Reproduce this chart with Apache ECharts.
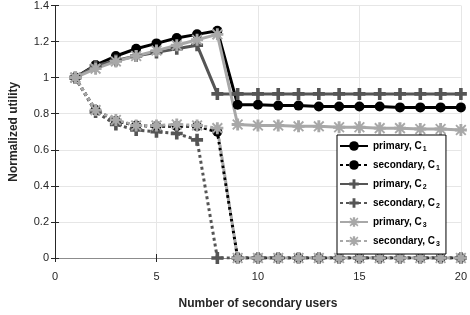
<!DOCTYPE html>
<html>
<head>
<meta charset="utf-8">
<script src="https://cdn.jsdelivr.net/npm/echarts@6/dist/echarts.min.js"></script>
<style>html,body{margin:0;padding:0;background:#fff;}#c{width:470px;height:315px;}</style>
</head>
<body>
<div id="c"></div>
<script>
const users = [1,2,3,4,5,6,7,8,9,10,11,12,13,14,15,16,17,18,19,20];
const primaryC1   = [1.00,1.07,1.12,1.16,1.19,1.22,1.24,1.26,0.85,0.85,0.845,0.845,0.84,0.84,0.84,0.84,0.835,0.835,0.835,0.835];
const secondaryC1 = [1.00,0.82,0.76,0.735,0.73,0.73,0.73,0.70,0,0,0,0,0,0,0,0,0,0,0,0];
const primaryC2   = [1.00,1.065,1.095,1.12,1.14,1.16,1.18,0.91,0.91,0.91,0.91,0.91,0.91,0.91,0.91,0.91,0.91,0.91,0.91,0.91];
const secondaryC2 = [1.00,0.81,0.74,0.71,0.70,0.69,0.655,0,0,0,0,0,0,0,0,0,0,0,0,0];
const primaryC3   = [1.00,1.05,1.09,1.12,1.15,1.18,1.21,1.24,0.74,0.735,0.735,0.73,0.73,0.725,0.725,0.72,0.72,0.715,0.715,0.71];
const secondaryC3 = [1.00,0.82,0.765,0.735,0.735,0.74,0.735,0.72,0,0,0,0,0,0,0,0,0,0,0,0];
const xTicks = [0,5,10,15,20];
const yTicks = [0,0.2,0.4,0.6,0.8,1,1.2,1.4];

const plusSym = 'path://M3.5,0H6.5V3.5H10V6.5H6.5V10H3.5V6.5H0V3.5H3.5Z';
const starSym = 'path://M3.8,0H6.2V3.8H10V6.2H6.2V10H3.8V6.2H0V3.8H3.8Z M1.5,0.4L5,3.9L8.5,0.4L9.6,1.5L6.1,5L9.6,8.5L8.5,9.6L5,6.1L1.5,9.6L0.4,8.5L3.9,5L0.4,1.5Z';

const pair = a => users.map((u,i)=>[u,a[i]]);
function mk(name, data, color, symbol, size, dotted) {
  return {
    name: name, type: 'line', data: pair(data),
    symbol: symbol, symbolSize: size, showSymbol: true,
    itemStyle: {color: color, borderWidth: 0},
    lineStyle: {color: color, width: 3, type: dotted ? [3,3] : 'solid'},
    emphasis: {disabled: true}, silent: true, animation: false
  };
}
const black = '#000000', dark = '#555555', light = '#a8a8a8';
const series = [
  mk('primary, C1', primaryC1, black, 'circle', 10, false),
  mk('secondary, C1', secondaryC1, black, 'circle', 10, true),
  mk('primary, C2', primaryC2, dark, plusSym, 12, false),
  mk('secondary, C2', secondaryC2, dark, plusSym, 12, true),
  mk('primary, C3', primaryC3, light, starSym, 12, false),
  mk('secondary, C3', secondaryC3, light, starSym, 12, true)
];
const font = 'Liberation Sans, Arial, Helvetica, sans-serif';
const chart = echarts.init(document.getElementById('c'));
chart.setOption({
  animation: false,
  grid: {left: 52, right: 7, top: 4, bottom: 55},
  legend: {
    orient: 'vertical', left: 337, top: 135,
    backgroundColor: '#fff', borderColor: '#000', borderWidth: 1,
    padding: [6, 6, 6, 2], itemWidth: 28, itemHeight: 12, itemGap: 7,
    formatter: n => n.replace(/C(\d)/, 'C{sub|$1}'),
    textStyle: {fontFamily: font, fontSize: 10, fontWeight: 'bold', color: '#000',
      rich: {sub: {fontFamily: font, fontSize: 7, fontWeight: 'bold', color: '#000', padding: [7,0,0,1]}}},
    data: series.map(s => s.name)
  },
  xAxis: [{
    type: 'value', min: 0, max: 20, interval: 5,
    name: 'Number of secondary users', nameLocation: 'middle', nameGap: 40,
    nameTextStyle: {fontFamily: font, fontSize: 12, fontWeight: 'bold', color: '#262626'},
    axisLine: {lineStyle: {color: '#8c8c8c', width: 1}},
    axisTick: {inside: true, length: 4, lineStyle: {color: '#262626'}},
    axisLabel: {fontFamily: font, fontSize: 11, color: '#262626', margin: 13,
      formatter: v => xTicks.includes(v) ? String(v) : ''},
    splitLine: {show: true, lineStyle: {color: '#e6e6e6'}}
  }, {
    type: 'value', position: 'top', min: 0, max: 20, interval: 5,
    axisLine: {show: true, lineStyle: {color: '#8c8c8c'}},
    axisTick: {show: true, inside: true, length: 4, lineStyle: {color: '#262626'}},
    axisLabel: {show: false}, splitLine: {show: false}
  }],
  yAxis: [{
    type: 'value', min: 0, max: 1.4, interval: 0.2,
    name: 'Normalized utility', nameLocation: 'middle', nameGap: 35,
    nameTextStyle: {fontFamily: font, fontSize: 12, fontWeight: 'bold', color: '#262626'},
    axisLine: {show: true, lineStyle: {color: '#262626'}},
    axisTick: {show: true, inside: true, length: 4, lineStyle: {color: '#262626'}},
    axisLabel: {fontFamily: font, fontSize: 11, color: '#262626', margin: 6,
      formatter: v => { const t = yTicks.find(y => Math.abs(y - v) < 1e-6); return t === undefined ? '' : String(t); }},
    splitLine: {show: true, lineStyle: {color: '#e6e6e6'}}
  }, {
    type: 'value', position: 'right', min: 0, max: 1.4, interval: 0.2,
    axisLine: {show: true, lineStyle: {color: '#262626'}},
    axisTick: {show: true, inside: true, length: 4, lineStyle: {color: '#262626'}},
    axisLabel: {show: false}, splitLine: {show: false}
  }],
  series: series
});
</script>
</body>
</html>
